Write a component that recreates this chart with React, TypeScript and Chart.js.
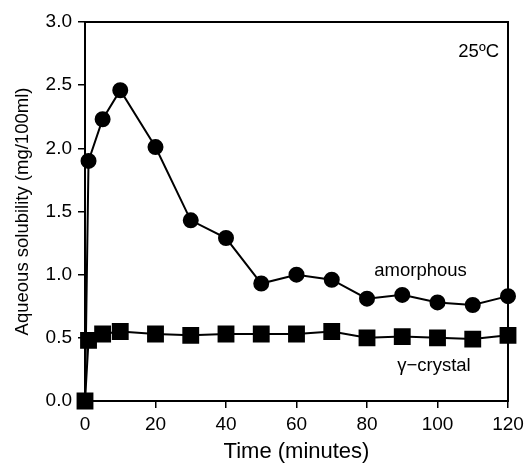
import React, { useEffect, useRef } from "react";
import { Chart, registerables } from "chart.js";

Chart.register(...registerables);

const timeAmorphous = [0, 1, 5, 10, 20, 30, 40, 50, 60, 70, 80, 90, 100, 110, 120];
const amorphous = [0, 1.9, 2.23, 2.46, 2.01, 1.43, 1.29, 0.93, 1.0, 0.96, 0.81, 0.84, 0.78, 0.76, 0.83];
const timeCrystal = [0, 1, 5, 10, 20, 30, 40, 50, 60, 70, 80, 90, 100, 110, 120];
const crystal = [0, 0.48, 0.53, 0.55, 0.53, 0.52, 0.53, 0.53, 0.53, 0.55, 0.5, 0.51, 0.5, 0.49, 0.52];
const xTicks = [0, 20, 40, 60, 80, 100, 120];
const yTicks = [0, 0.5, 1.0, 1.5, 2.0, 2.5, 3.0];
const seriesLabels = ["amorphous", "γ\u2212crystal"];
const tempLabel = "25ºC";

const FONT = "'Liberation Sans', Arial, sans-serif";

export default function App() {
  const ref = useRef<HTMLCanvasElement | null>(null);
  useEffect(() => {
    document.body.style.margin = "0";
    const frame = {
      id: "frame",
      afterDatasetsDraw(chart: any) {
        const { ctx, chartArea: a, scales } = chart;
        ctx.save();
        ctx.strokeStyle = "#000";
        ctx.lineWidth = 2;
        ctx.beginPath();
        ctx.moveTo(a.left, a.bottom);
        ctx.lineTo(a.left, a.top);
        ctx.lineTo(a.right, a.top);
        ctx.lineTo(a.right, a.bottom);
        ctx.lineTo(a.left, a.bottom);
        ctx.stroke();
        ctx.fillStyle = "#000";
        ctx.font = `18.5px ${FONT}`;
        ctx.textBaseline = "alphabetic";
        ctx.textAlign = "center";
        ctx.fillText(seriesLabels[0], scales.x.getPixelForValue(95.2), scales.y.getPixelForValue(0.99));
        ctx.fillText(seriesLabels[1], scales.x.getPixelForValue(99), scales.y.getPixelForValue(0.24));
        ctx.textAlign = "right";
        ctx.fillText(tempLabel, a.right - 9, scales.y.getPixelForValue(2.72));
        ctx.restore();
      },
    };
    const chart = new Chart(ref.current!, {
      type: "scatter",
      data: {
        datasets: [
          {
            label: "crystal",
            data: timeCrystal.map((t, i) => ({ x: t, y: crystal[i] })),
            showLine: true,
            borderColor: "#000",
            backgroundColor: "#000",
            borderWidth: 2,
            pointStyle: "rect",
            pointRadius: 10.5,
            pointHoverRadius: 10.5,
            clip: false,
          },
          {
            label: "amorphous",
            data: timeAmorphous.map((t, i) => ({ x: t, y: amorphous[i] })),
            showLine: true,
            borderColor: "#000",
            backgroundColor: "#000",
            borderWidth: 2,
            pointStyle: "circle",
            pointRadius: 7,
            pointHoverRadius: 7,
            clip: false,
          },
        ],
      },
      options: {
        animation: false,
        responsive: false,
        layout: { padding: { top: 22, right: 16, left: 0, bottom: 0 } },
        plugins: { legend: { display: false }, tooltip: { enabled: false } },
        scales: {
          x: {
            type: "linear",
            min: 0,
            max: 120,
            afterBuildTicks: (s: any) => { s.ticks = xTicks.map((v) => ({ value: v })); },
            afterFit: (s: any) => { s.height = 64; s.paddingLeft = 0; s.paddingRight = 0; },
            grid: { drawOnChartArea: false, drawTicks: true, tickLength: 7, color: "#000", lineWidth: 1.5 },
            border: { display: false },
            ticks: { color: "#000", font: { family: FONT, size: 19 }, padding: 5, maxRotation: 0 },
            title: { display: true, text: "Time (minutes)", color: "#000", font: { family: FONT, size: 22 }, padding: { top: 2, bottom: 0 } },
          },
          y: {
            type: "linear",
            min: 0,
            max: 3,
            afterBuildTicks: (s: any) => { s.ticks = yTicks.map((v) => ({ value: v })); },
            afterFit: (s: any) => { s.width = 85; s.paddingTop = 0; s.paddingBottom = 0; },
            grid: { drawOnChartArea: false, drawTicks: true, tickLength: 7, color: "#000", lineWidth: 1.5 },
            border: { display: false },
            ticks: { color: "#000", font: { family: FONT, size: 19 }, padding: 6, callback: (v: any) => Number(v).toFixed(1) },
            title: { display: true, text: "Aqueous solubility (mg/100ml)", color: "#000", font: { family: FONT, size: 18.5 }, padding: { top: 12, bottom: 6 } },
          },
        },
      },
      plugins: [frame],
    });
    return () => chart.destroy();
  }, []);
  return (
    <div style={{ position: "absolute", left: 0, top: 0, width: 524, height: 465 }}>
      <canvas ref={ref} width={524} height={465} />
    </div>
  );
}
